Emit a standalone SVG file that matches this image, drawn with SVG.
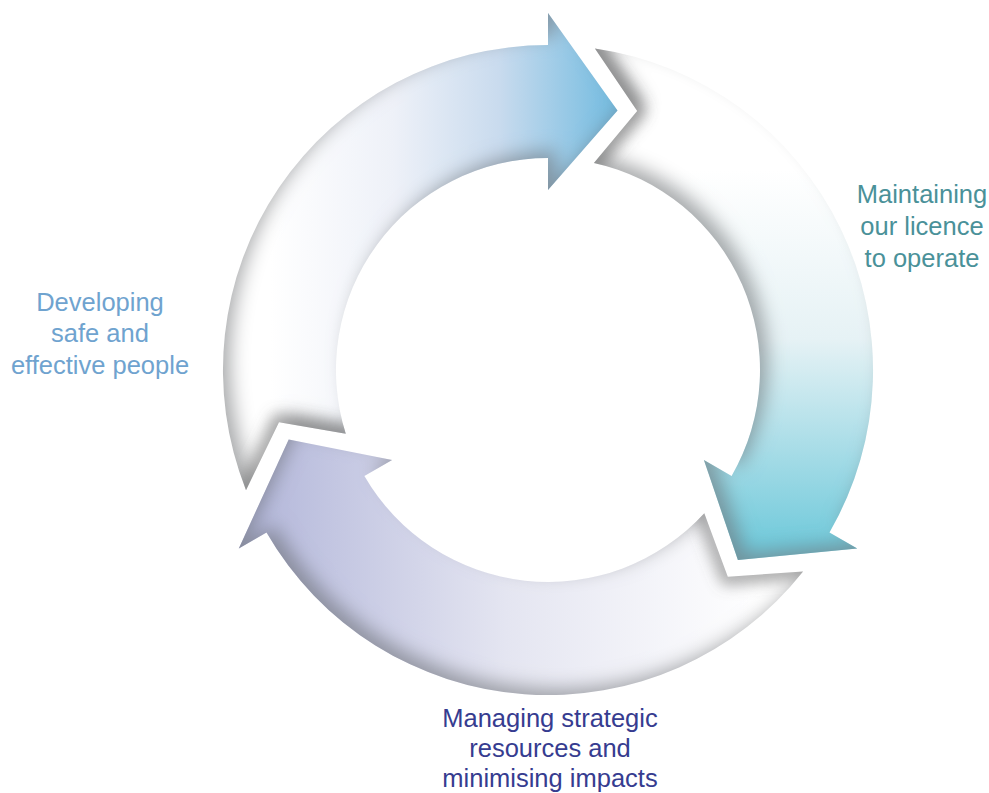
<svg xmlns="http://www.w3.org/2000/svg" width="989" height="793" viewBox="0 0 989 793">
  <style>
    .lbl { font-family: "Liberation Sans", Arial, sans-serif; font-size: 25.5px; text-anchor: middle; }
    .people { fill: #6fa3cf; }
    .licence { fill: #4a9199; }
    .resources { fill: #363c90; }
    .arrow { filter: url(#inset); }
    .tail { fill: none; stroke: #6a6a6a; stroke-width: 18; stroke-opacity: 0.5; stroke-linejoin: round; filter: url(#soft); }
  </style>
  <defs>
    <linearGradient id="gTop" gradientUnits="userSpaceOnUse" x1="270" y1="0" x2="622" y2="0">
      <stop offset="0" stop-color="#ffffff"/>
      <stop offset="0.35" stop-color="#eef1f8"/>
      <stop offset="0.65" stop-color="#c9dbee"/>
      <stop offset="1" stop-color="#6fbadf"/>
    </linearGradient>
    <linearGradient id="gRight" gradientUnits="userSpaceOnUse" x1="0" y1="170" x2="0" y2="545">
      <stop offset="0" stop-color="#ffffff"/>
      <stop offset="0.45" stop-color="#e6f2f5"/>
      <stop offset="1" stop-color="#72cadb"/>
    </linearGradient>
    <linearGradient id="gBottom" gradientUnits="userSpaceOnUse" x1="250" y1="0" x2="760" y2="0">
      <stop offset="0" stop-color="#b3b7da"/>
      <stop offset="0.5" stop-color="#e4e5f1"/>
      <stop offset="1" stop-color="#ffffff"/>
    </linearGradient>
    <filter id="inset" x="-10%" y="-10%" width="120%" height="120%">
      <feGaussianBlur in="SourceAlpha" stdDeviation="9"/>
      <feOffset dx="9" dy="-8" result="ob"/>
      <feComposite in="SourceAlpha" in2="ob" operator="out" result="edge"/>
      <feFlood flood-color="#707478" flood-opacity="0.7"/>
      <feComposite in2="edge" operator="in" result="sh"/>
      <feMerge>
        <feMergeNode in="SourceGraphic"/>
        <feMergeNode in="sh"/>
      </feMerge>
    </filter>
    <filter id="soft" filterUnits="userSpaceOnUse" x="0" y="0" width="989" height="793">
      <feGaussianBlur stdDeviation="7"/>
    </filter>
    <clipPath id="clipTop"><path d="M 246.0 490.2 A 325 325 0 0 1 548 45 L 548 13 L 617.5 110.6 L 548 190 L 548 158 A 212 212 0 0 0 345.8 433.8 L 279.0 422.3 Z"/></clipPath>
    <clipPath id="clipRight"><path d="M 594.9 48.4 A 325 325 0 0 1 829.5 532.5 L 857.2 548.5 L 737.9 559.9 L 703.9 460 L 731.6 476 A 212 212 0 0 0 593.9 163.0 L 637.2 110.9 Z"/></clipPath>
    <clipPath id="clipBottom"><path d="M 803.1 571.4 A 325 325 0 0 1 266.5 532.5 L 238.8 548.5 L 288.7 439.5 L 392.1 460 L 364.4 476 A 212 212 0 0 0 704.3 513.2 L 727.8 576.8 Z"/></clipPath>
  </defs>
  <rect width="989" height="793" fill="#ffffff"/>
  <g id="connectors">
    <g id="arrow-top">
      <path class="arrow" fill="url(#gTop)" d="M 246.0 490.2 A 325 325 0 0 1 548 45 L 548 13 L 617.5 110.6 L 548 190 L 548 158 A 212 212 0 0 0 345.8 433.8 L 279.0 422.3 Z"/>
      <g clip-path="url(#clipTop)"><polyline class="tail" points="240,502 279,422 352,435"/></g>
    </g>
    <g id="arrow-right">
      <path class="arrow" fill="url(#gRight)" d="M 594.9 48.4 A 325 325 0 0 1 829.5 532.5 L 857.2 548.5 L 737.9 559.9 L 703.9 460 L 731.6 476 A 212 212 0 0 0 593.9 163.0 L 637.2 110.9 Z"/>
      <g clip-path="url(#clipRight)"><polyline class="tail" points="588,38 637,111 588,170"/></g>
    </g>
    <g id="arrow-bottom">
      <path class="arrow" fill="url(#gBottom)" d="M 803.1 571.4 A 325 325 0 0 1 266.5 532.5 L 238.8 548.5 L 288.7 439.5 L 392.1 460 L 364.4 476 A 212 212 0 0 0 704.3 513.2 L 727.8 576.8 Z"/>
      <g clip-path="url(#clipBottom)"><polyline class="tail" points="700,505 728,577 812,570"/></g>
    </g>
  </g>
  <g id="node-people">
    <text class="lbl people" x="100" y="311">Developing</text>
    <text class="lbl people" x="100" y="342">safe and</text>
    <text class="lbl people" x="100" y="374">effective people</text>
  </g>
  <g id="node-licence">
    <text class="lbl licence" x="922" y="203">Maintaining</text>
    <text class="lbl licence" x="922" y="235">our licence</text>
    <text class="lbl licence" x="922" y="267">to operate</text>
  </g>
  <g id="node-resources">
    <text class="lbl resources" x="550" y="727">Managing strategic</text>
    <text class="lbl resources" x="550" y="757">resources and</text>
    <text class="lbl resources" x="550" y="787">minimising impacts</text>
  </g>
</svg>
